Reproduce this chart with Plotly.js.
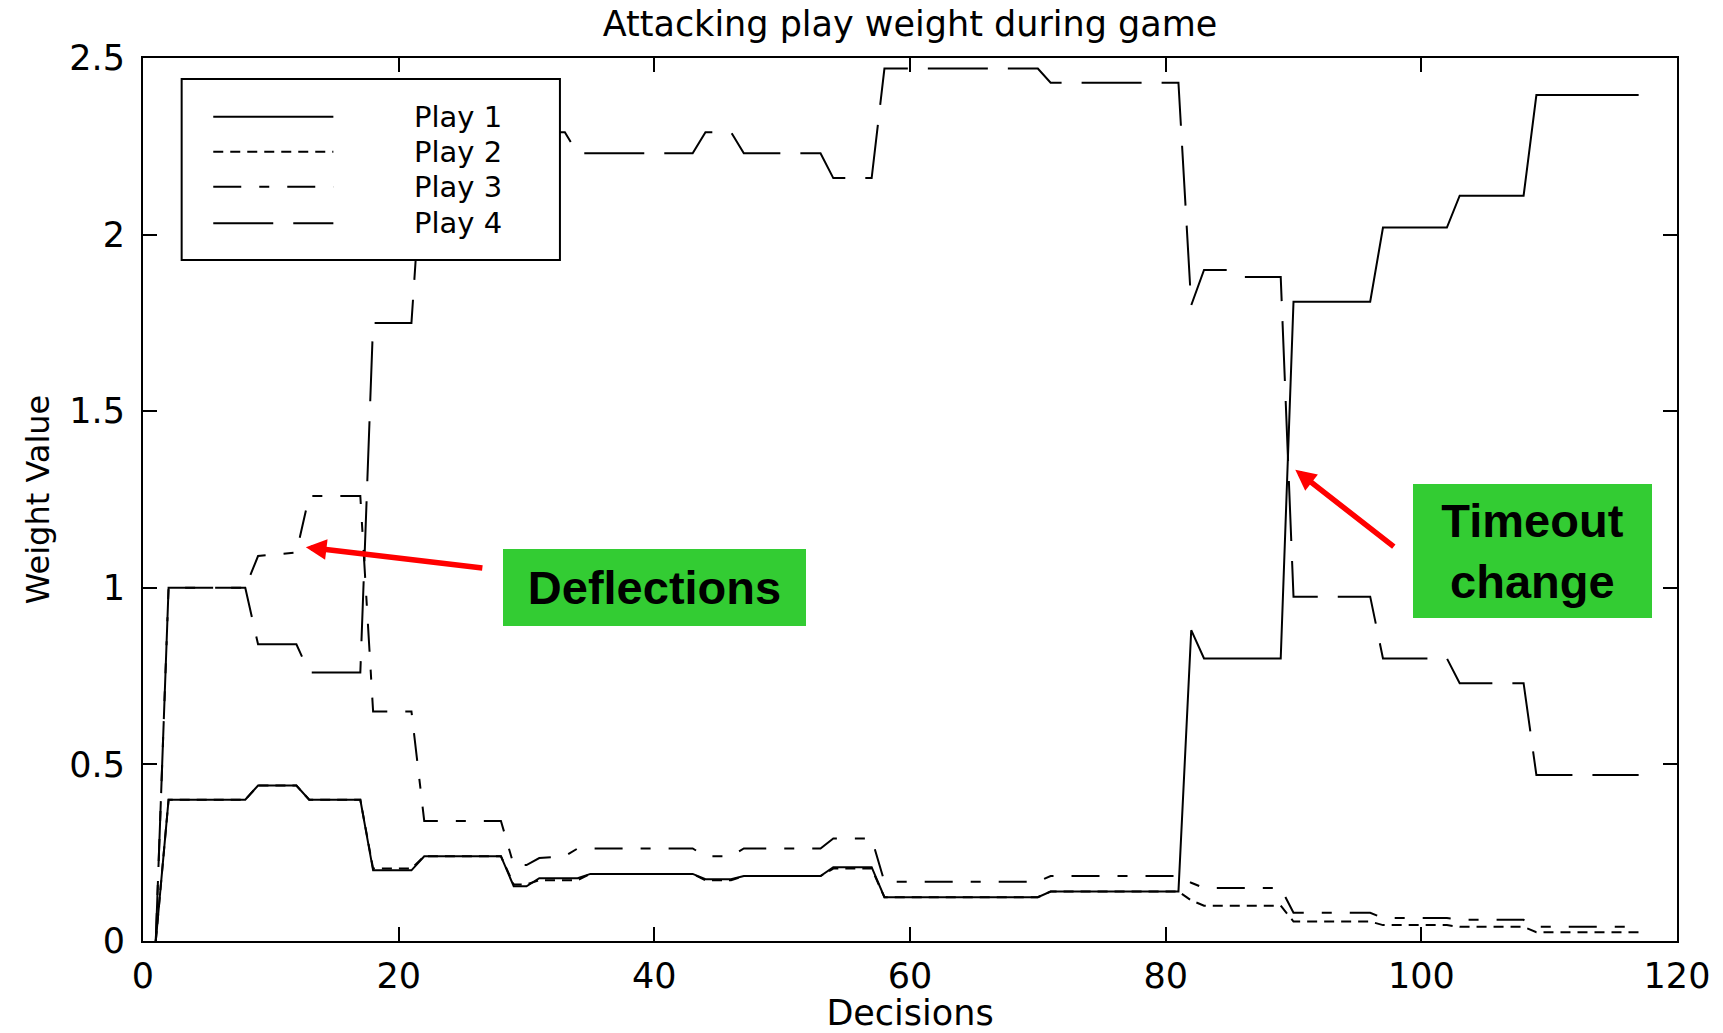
<!DOCTYPE html>
<html>
<head>
<meta charset="utf-8">
<script src="https://cdn.plot.ly/plotly-3.0.1.min.js"></script>
<style>html,body{margin:0;padding:0;background:#fff;}#chart{width:1723px;height:1033px;}</style>
</head>
<body>
<div id="chart"></div>
<script>
// ---- Data ----
const seriesNames = ['Play 1', 'Play 2', 'Play 3', 'Play 4'];

const play1X = [1, 2, 8, 9, 12, 13, 17, 18, 21, 22, 28, 29, 30, 31, 34, 35, 43, 44, 46, 47, 53, 54, 57, 58, 70, 71, 81, 82, 83, 89, 90, 96, 97, 102, 103, 108, 109, 117];
const play1Y = [0, 0.40, 0.40, 0.44, 0.44, 0.40, 0.40, 0.20, 0.20, 0.24, 0.24, 0.155, 0.155, 0.178, 0.178, 0.19, 0.19, 0.175, 0.175, 0.184, 0.184, 0.209, 0.209, 0.124, 0.124, 0.14, 0.14, 0.88, 0.80, 0.80, 1.81, 1.81, 2.02, 2.02, 2.11, 2.11, 2.395, 2.395];

const play2X = [1, 2, 8, 9, 12, 13, 17, 18, 21, 22, 28, 29, 30, 31, 34, 35, 43, 44, 46, 47, 53, 54, 57, 58, 70, 71, 81, 82, 83, 89, 90, 96, 97, 102, 103, 108, 109, 117];
const play2Y = [0, 0.40, 0.40, 0.44, 0.44, 0.40, 0.40, 0.205, 0.205, 0.24, 0.24, 0.16, 0.16, 0.172, 0.172, 0.19, 0.19, 0.172, 0.172, 0.184, 0.184, 0.205, 0.205, 0.124, 0.124, 0.14, 0.14, 0.115, 0.10, 0.10, 0.055, 0.055, 0.045, 0.045, 0.04, 0.04, 0.025, 0.025];

const play3X = [1, 2, 8, 9, 12, 13, 17, 18, 21, 22, 28, 29, 30, 31, 33, 34, 43, 44, 46, 47, 53, 54, 57, 58, 70, 71, 81, 82, 83, 89, 90, 96, 97, 102, 103, 108, 109, 117];
const play3Y = [0, 1.0, 1.0, 1.09, 1.10, 1.26, 1.26, 0.65, 0.65, 0.34, 0.34, 0.215, 0.215, 0.235, 0.24, 0.262, 0.262, 0.24, 0.24, 0.262, 0.262, 0.29, 0.29, 0.168, 0.168, 0.184, 0.184, 0.165, 0.15, 0.15, 0.08, 0.08, 0.065, 0.065, 0.06, 0.06, 0.04, 0.04];

const play4X = [1, 2, 8, 9, 12, 13, 17, 18, 21, 22, 33, 34, 43, 44, 46, 47, 53, 54, 57, 58, 70, 71, 81, 82, 83, 85, 86, 89, 90, 96, 97, 102, 103, 108, 109, 117];
const play4Y = [0, 1.0, 1.0, 0.84, 0.84, 0.76, 0.76, 1.75, 1.75, 2.29, 2.29, 2.23, 2.23, 2.29, 2.29, 2.23, 2.23, 2.16, 2.16, 2.47, 2.47, 2.43, 2.43, 1.80, 1.90, 1.90, 1.88, 1.88, 0.975, 0.975, 0.80, 0.80, 0.73, 0.73, 0.47, 0.47];

const xTicks = [0, 20, 40, 60, 80, 100, 120];
const yTicks = [0, 0.5, 1, 1.5, 2, 2.5];
const titleText = 'Attacking play weight during game';
const xTitle = 'Decisions';
const yTitle = 'Weight Value';

// ---- Styles ----
const dashes = ['solid', '10px,7px', '28px,18px,10px,18px', '60px,20px'];
const font = 'DejaVu Sans, Verdana, sans-serif';
const boldFont = 'Liberation Sans, Arial, sans-serif';
const green = '#33CC33';
const red = '#FF0000';

const xs = [play1X, play2X, play3X, play4X];
const ys = [play1Y, play2Y, play3Y, play4Y];

const traces = seriesNames.map((n, i) => ({
  type: 'scatter', mode: 'lines', name: n,
  x: xs[i], y: ys[i],
  line: {color: '#000', width: 2, dash: dashes[i]},
  hoverinfo: 'skip', showlegend: false
}));

// custom legend (box, sample lines, labels) in paper coordinates
const legBox = {x0: 0.0252, x1: 0.2718, y0: 0.7712, y1: 0.9762};
const legRows = [0.9335, 0.8939, 0.8542, 0.8128];
const legLine = {x0: 0.0458, x1: 0.1241};
const legTextX = 0.1760;

const shapes = [{
  type: 'rect', xref: 'paper', yref: 'paper', layer: 'above',
  x0: legBox.x0, x1: legBox.x1, y0: legBox.y0, y1: legBox.y1,
  fillcolor: '#fff', line: {color: '#000', width: 2}
}];
const annotations = [];
seriesNames.forEach((n, i) => {
  shapes.push({type: 'line', xref: 'paper', yref: 'paper', layer: 'above',
    x0: legLine.x0, x1: legLine.x1, y0: legRows[i], y1: legRows[i],
    line: {color: '#000', width: 2, dash: dashes[i]}});
  annotations.push({xref: 'paper', yref: 'paper', x: legTextX, y: legRows[i],
    xanchor: 'left', yanchor: 'middle', text: n, showarrow: false, borderpad: 0,
    font: {family: font, size: 29, color: '#000'}});
});

// callouts
annotations.push({xref: 'x', yref: 'y', x: 40, y: 1.0, xanchor: 'center', yanchor: 'middle',
  text: 'Deflections', showarrow: false, width: 303, height: 77, align: 'center', valign: 'middle',
  bgcolor: green, borderpad: 0, borderwidth: 0,
  font: {family: boldFont, size: 47, color: '#000', weight: 'bold'}});
annotations.push({xref: 'x', yref: 'y', x: 108.7, y: 1.103, xanchor: 'center', yanchor: 'middle',
  text: 'Timeout<br>change', showarrow: false, width: 239, height: 134, align: 'center', valign: 'middle',
  bgcolor: green, borderpad: 0, borderwidth: 0,
  font: {family: boldFont, size: 47, color: '#000', weight: 'bold'}});
annotations.push({xref: 'x', yref: 'y', x: 12.74, y: 1.115, ax: 178, ay: 21, text: '',
  showarrow: true, arrowhead: 2, arrowsize: 0.75, arrowwidth: 5.5, arrowcolor: red, standoff: 0});
annotations.push({xref: 'x', yref: 'y', x: 90.14, y: 1.334, ax: 100, ay: 78, text: '',
  showarrow: true, arrowhead: 2, arrowsize: 0.75, arrowwidth: 5.5, arrowcolor: red, standoff: 0});

const axisCommon = {
  showgrid: false, zeroline: false, showline: true, linecolor: '#000', linewidth: 2,
  mirror: 'ticks', ticks: 'inside', ticklen: 14, tickwidth: 2, tickcolor: '#000',
  tickfont: {family: font, size: 35, color: '#000'}, automargin: false
};

const layout = {
  width: 1723, height: 1033,
  margin: {l: 143, r: 46, t: 58, b: 92, pad: 0},
  paper_bgcolor: '#fff', plot_bgcolor: '#fff',
  showlegend: false,
  title: {text: titleText, font: {family: font, size: 35, color: '#000'},
    xref: 'paper', x: 0.5, xanchor: 'center', yref: 'container', y: 0.977, yanchor: 'middle'},
  xaxis: Object.assign({}, axisCommon, {range: [0, 120], tickvals: xTicks, ticktext: xTicks.map(String),
    ticklabelstandoff: 3,
    title: {text: xTitle, font: {family: font, size: 35, color: '#000'}, standoff: 13}}),
  yaxis: Object.assign({}, axisCommon, {range: [0, 2.5], tickvals: yTicks, ticktext: yTicks.map(String),
    ticklabelstandoff: 9,
    title: {text: yTitle, font: {family: font, size: 32, color: '#000'}, standoff: 10}}),
  shapes: shapes,
  annotations: annotations
};

Plotly.newPlot('chart', traces, layout, {displayModeBar: false, staticPlot: true});
</script>
</body>
</html>
